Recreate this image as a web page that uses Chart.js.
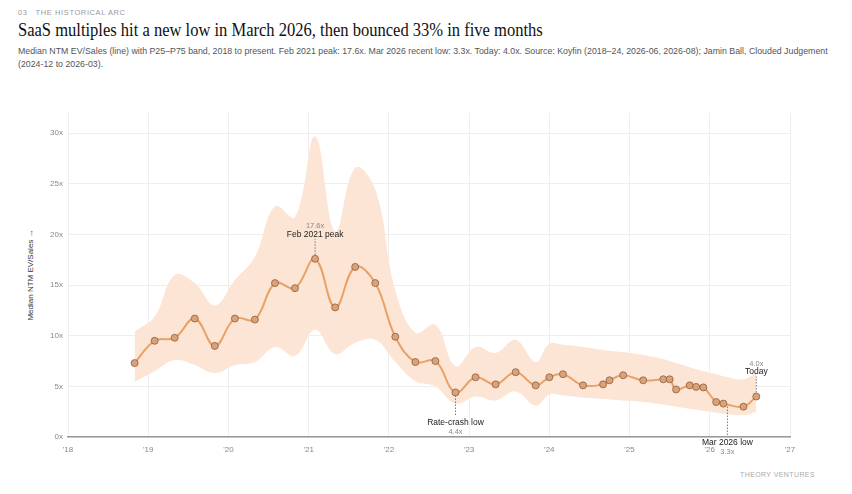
<!DOCTYPE html>
<html>
<head>
<meta charset="utf-8">
<script src="https://cdn.jsdelivr.net/npm/chart.js@4.4.1/dist/chart.umd.min.js"></script>
<style>
  body { margin: 0; background: #fff; width: 852px; height: 494px; overflow: hidden; position: relative; font-family: "Liberation Sans", Arial, sans-serif; }
  .kicker { position: absolute; left: 18px; top: 8px; font-size: 7.5px; letter-spacing: 0.6px; color: #999; }
  .title { position: absolute; left: 18px; top: 19px; font-family: "Liberation Serif", serif; font-size: 19px; color: #111; white-space: nowrap; transform: scaleX(0.87); transform-origin: left center; }
  .sub { position: absolute; left: 18px; top: 45px; width: 830px; font-size: 8.8px; line-height: 13px; color: #555; }
  .ytitle { position: absolute; left: 30px; top: 275px; transform: translate(-50%, -50%) rotate(-90deg); font-size: 8px; color: #333; white-space: nowrap; }
  .footer { position: absolute; left: 740px; top: 471px; font-size: 7px; letter-spacing: 0.4px; color: #aaa; }
  canvas { position: absolute; left: 0; top: 90px; }
</style>
</head>
<body>
<div class="kicker">03&nbsp;&nbsp;&nbsp;THE HISTORICAL ARC</div>
<div class="title">SaaS multiples hit a new low in March 2026, then bounced 33% in five months</div>
<div class="sub">Median NTM EV/Sales (line) with P25–P75 band, 2018 to present. Feb 2021 peak: 17.6x. Mar 2026 recent low: 3.3x. Today: 4.0x. Source: Koyfin (2018–24, 2026-06, 2026-08); Jamin Ball, Clouded Judgement (2024-12 to 2026-03).</div>
<div class="ytitle">Median NTM EV/Sales →</div>
<div class="footer">THEORY VENTURES</div>
<canvas id="chart" width="852" height="380"></canvas>
<script>
// 数据
const dates = [2018.83, 2019.08, 2019.33, 2019.58, 2019.83, 2020.08, 2020.33, 2020.58, 2020.83,
  2021.08, 2021.33, 2021.58, 2021.83, 2022.08, 2022.33, 2022.58, 2022.83, 2023.08, 2023.33,
  2023.58, 2023.83, 2024.0, 2024.17, 2024.42, 2024.67, 2024.75, 2024.92, 2025.17, 2025.42,
  2025.5, 2025.58, 2025.75, 2025.83, 2025.92, 2026.08, 2026.17, 2026.42, 2026.58];
const median = [7.3, 9.5, 9.8, 11.7, 9.0, 11.7, 11.6, 15.2, 14.7,
  17.6, 12.8, 16.8, 15.2, 9.9, 7.4, 7.5, 4.4, 5.9, 5.2,
  6.4, 5.1, 5.9, 6.2, 5.1, 5.2, 5.6, 6.1, 5.6, 5.7,
  5.7, 4.7, 5.1, 4.95, 4.9, 3.45, 3.3, 3.0, 4.0];
const p75 = [10.4, 11.9, 16.0, 15.2, 13.0, 15.5, 17.8, 22.8, 21.7,
  29.7, 20.3, 26.6, 24.5, 14.5, 10.3, 11.1, 7.0, 8.9, 8.3,
  9.6, 7.4, 9.2, 9.1, 8.9, 8.6, 8.5, 8.4, 8.1, 7.7,
  7.5, 7.3, 6.9, 6.7, 6.5, 6.2, 6.0, 5.7, 6.4];
const p25 = [5.45, 6.5, 7.6, 7.1, 6.3, 7.1, 7.4, 8.9, 8.0,
  10.6, 8.2, 9.3, 9.6, 7.4, 5.5, 5.0, 3.3, 4.0, 3.6,
  4.5, 3.1, 4.2, 4.1, 3.9, 3.75, 3.7, 3.6, 3.45, 3.2,
  3.1, 3.0, 2.8, 2.7, 2.6, 2.4, 2.3, 2.15, 2.5];
const xTicks = [2018, 2019, 2020, 2021, 2022, 2023, 2024, 2025, 2026, 2027];
const yTicks = [0, 5, 10, 15, 20, 25, 30];

// 标注
const notes = [
  { i: 9, label: 'Feb 2021 peak', side: 'above' },
  { i: 16, label: 'Rate-crash low', side: 'below', len: 23 },
  { i: 35, label: 'Mar 2026 low', side: 'below', len: 32, dx: 4 },
  { i: 37, label: 'Today', side: 'above' }
];

const toXY = arr => arr.map((v, k) => ({ x: dates[k], y: v }));

const notePlugin = {
  id: 'notes',
  afterDatasetsDraw(chart) {
    const c = chart.ctx;
    const xs = chart.scales.x, ys = chart.scales.y;
    c.save();
    c.textAlign = 'center';
    c.textBaseline = 'middle';
    notes.forEach(n => {
      const px = xs.getPixelForValue(dates[n.i]) + (n.dx || 0);
      const py = ys.getPixelForValue(median[n.i]);
      const val = median[n.i].toFixed(1) + 'x';
      c.strokeStyle = '#777';
      c.lineWidth = 1;
      c.setLineDash([1.5, 1.5]);
      c.beginPath();
      if (n.side === 'above') {
        c.moveTo(px, py - 4);
        c.lineTo(px, py - 20);
      } else {
        c.moveTo(px, py + 3);
        c.lineTo(px, py + n.len);
      }
      c.stroke();
      c.setLineDash([]);
      if (n.side === 'above') {
        c.fillStyle = '#888';
        c.font = '7.5px "Liberation Sans", Arial';
        c.fillText(val, px, py - 33);
        c.fillStyle = '#222';
        c.font = '8.5px "Liberation Sans", Arial';
        c.fillText(n.label, px, py - 24.5);
      } else {
        c.fillStyle = '#222';
        c.font = '8.5px "Liberation Sans", Arial';
        c.fillText(n.label, px, py + n.len + 7);
        c.fillStyle = '#888';
        c.font = '7.5px "Liberation Sans", Arial';
        c.fillText(val, px, py + n.len + 16);
      }
    });
    c.restore();
  }
};

new Chart(document.getElementById('chart').getContext('2d'), {
  type: 'line',
  data: {
    datasets: [
      {
        data: toXY(p75),
        order: 2,
        borderWidth: 0,
        pointRadius: 0,
        tension: 0.4,
        backgroundColor: '#fce5d5',
        fill: '+1'
      },
      {
        data: toXY(p25),
        order: 3,
        borderWidth: 0,
        pointRadius: 0,
        tension: 0.4,
        fill: false
      },
      {
        data: toXY(median),
        order: 0,
        borderColor: '#e8a268',
        borderWidth: 2,
        tension: 0.4,
        pointRadius: 3.5,
        pointBackgroundColor: '#dba27a',
        pointBorderColor: '#8c5e3c',
        pointBorderWidth: 0.8,
        fill: false
      }
    ]
  },
  options: {
    responsive: false,
    animation: false,
    devicePixelRatio: 1,
    layout: { padding: { top: 23, right: 62, left: 0, bottom: 0 } },
    plugins: { legend: { display: false }, tooltip: { enabled: false } },
    scales: {
      x: {
        type: 'linear',
        min: 2018,
        max: 2027,
        afterBuildTicks: s => { s.ticks = xTicks.map(v => ({ value: v })); },
        afterFit: s => { s.height = 33; },
        ticks: {
          padding: 8,
          color: '#888',
          font: { size: 8, family: '"Liberation Sans", Arial' },
          callback: v => "'" + String(v).slice(2)
        },
        grid: { color: '#eeeeee', drawTicks: false },
        border: { color: '#999', width: 1.5 }
      },
      y: {
        min: 0,
        max: 32,
        afterBuildTicks: s => { s.ticks = yTicks.map(v => ({ value: v })); },
        afterFit: s => { s.width = 68; },
        ticks: {
          padding: 5,
          color: '#888',
          font: { size: 8, family: '"Liberation Sans", Arial' },
          callback: v => v + 'x'
        },
        grid: { color: '#eeeeee', drawTicks: false },
        border: { display: false }
      }
    }
  },
  plugins: [notePlugin]
});
</script>
</body>
</html>
